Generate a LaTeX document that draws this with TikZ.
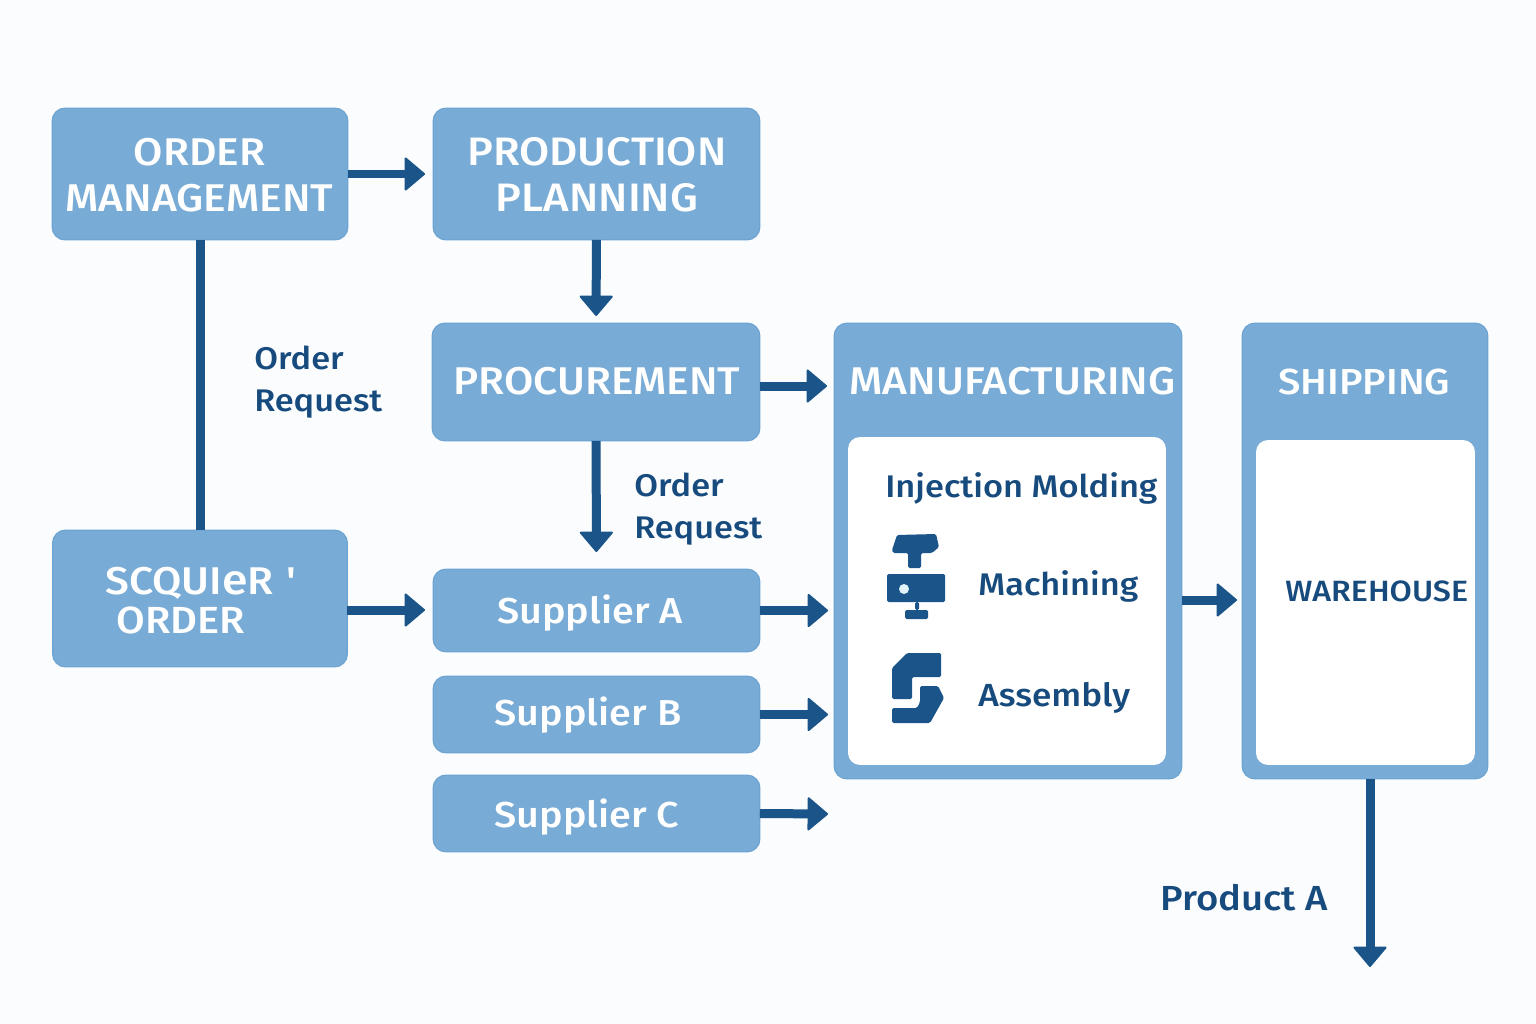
\documentclass[tikz,border=0pt]{standalone}
\usepackage{fontspec}
\setmainfont{Fira Sans}[BoldFont={Fira Sans Medium},BoldFeatures={FakeStretch=1.1}]
\usetikzlibrary{arrows.meta}
\definecolor{boxblue}{HTML}{78ABD5}
\definecolor{edgeblue}{HTML}{6AA3D2}
\definecolor{darkblue}{HTML}{1A5488}
\definecolor{inkblue}{HTML}{174B7E}
\definecolor{pageblue}{HTML}{FAFCFE}
\tikzset{
  blockbox/.style={draw=edgeblue,fill=boxblue,line width=0.02cm,rounded corners=0.26cm,inner sep=0pt,outer sep=0pt},
  innerbox/.style={fill=white,draw=none,rounded corners=0.24cm,inner sep=0pt,outer sep=0pt},
  whitetext/.style={text=white,font=\bfseries\fontsize{22}{26}\selectfont,align=center,inner sep=0pt},
  suppliertext/.style={whitetext,font=\bfseries\fontsize{20.5}{26}\selectfont},
  inktext/.style={text=inkblue,font=\bfseries\fontsize{17.8}{24}\selectfont,align=left,inner sep=0pt},
  flowline/.style={draw=darkblue,line width=0.18cm},
  flowarrow/.style={flowline,-{Triangle[round,width=0.70cm,length=0.42cm,line width=0.04cm]}},
  icon/.style={fill=darkblue,rounded corners=0.03cm},
}
\begin{document}
\begin{tikzpicture}[x=0.02cm,y=-0.02cm]
\fill[pageblue] (0,0) rectangle (1536,1024);
\useasboundingbox (0,0) rectangle (1536,1024);
% left column
\node[blockbox,minimum width=5.92cm,minimum height=2.64cm] (ordermgmt) at (200,174) {};
\node[whitetext] (ordermgmttext) at (199.5,175) {ORDER\\MANAGEMENT};
\node[blockbox,minimum width=5.90cm,minimum height=2.74cm] (squierorder) at (200,598.5) {};
\node[whitetext,anchor=west] (squiertext) at (105,583) {SCQUI{\fontsize{24}{26}\selectfont e}R\,\,\textquotesingle};
\node[whitetext,anchor=west,font=\bfseries\fontsize{21.5}{26}\selectfont] (squiertext2) at (116,620.5) {ORDER};
% middle column
\node[blockbox,minimum width=6.54cm,minimum height=2.64cm] (planning) at (596.5,174) {};
\node[whitetext,font=\bfseries\fontsize{22.6}{26}\selectfont] (planningtext) at (597,175) {PRODUCTION\\PLANNING};
\node[blockbox,minimum width=6.56cm,minimum height=2.36cm] (procurement) at (596,382) {};
\node[whitetext] (procurementtext) at (597,381.5) {PROCUREMENT};
\foreach \name/\txt/\cy/\h/\tx/\ty in {suppliera/Supplier A/610.5/1.66/590/613,supplierb/Supplier B/714.5/1.54/588/715.5,supplierc/Supplier C/813.5/1.54/587/817}
{
  \node[blockbox,minimum width=6.54cm,minimum height=\h cm] (\name) at (596.5,\cy) {};
  \node[suppliertext] (\name text) at (\tx,\ty) {\txt};
}
% manufacturing
\node[blockbox,minimum width=6.96cm,minimum height=9.12cm] (manufacturing) at (1008,551) {};
\node[innerbox,minimum width=6.36cm,minimum height=6.56cm] (mfginner) at (1007,601) {};
\node[whitetext] (mfgtitle) at (1012.5,381.5) {MANUFACTURING};
\node[inktext,anchor=west] (injection) at (885,488) {Injection Molding};
\node[inktext,anchor=west] (machining) at (978,586.5) {Machining};
\node[inktext,anchor=west,font=\bfseries\fontsize{18.2}{24}\selectfont] (assembly) at (978,697.5) {Assembly};
% machining icon
\fill[icon] (892,550)--(897,535)--(936,534)--(939,547)--(932,553)--(921,553)--(921,568)--(908,568)--(908,553)--(893,553)--cycle;
\fill[icon] (887,574) rectangle (945,602);
\fill[icon] (915,602) rectangle (919,610);
\fill[icon] (905,610) rectangle (928,619);
\fill[fill=black!15!cyan!12] (904,589) circle (0.1cm);
% assembly icon
\fill[icon] (907,653)--(941,653)--(941,677)--(912,677)--(912,699)--(892,699)--(892,668)--cycle;
\fill[icon] (920,686)--(938,686)--(944,698)--(930,723)--(892,723)--(892,708)--(917,708)--(920,702)--cycle;
% shipping
\node[blockbox,minimum width=4.92cm,minimum height=9.12cm] (shipping) at (1365,551) {};
\node[innerbox,minimum width=4.38cm,minimum height=6.50cm] (shipinner) at (1365.5,602.5) {};
\node[whitetext,font=\bfseries\fontsize{20.6}{26}\selectfont] (shiptitle) at (1364.5,381.5) {SHIPPING};
\node[inktext,anchor=west,font=\bfseries\fontsize{16.7}{20}\selectfont] (warehouse) at (1285,591.5) {WAREHOUSE};
% free labels
\node[inktext,anchor=west] (orderreq) at (254,382) {Order\\Request};
\node[inktext,anchor=west] (orderreqb) at (634,509) {Order\\Request};
\node[inktext,anchor=west,font=\bfseries\fontsize{19.8}{24}\selectfont] (producta) at (1160,898) {Product A};
% arrow ends
\coordinate (procout) at (760,386);
\coordinate (procend) at (827,386);
\coordinate (sqout) at (347,610);
\coordinate (sqend) at (425,610);
\coordinate (cend) at (828,814);
\coordinate (mfgout) at (1182,600);
\coordinate (shipend) at (1237,600);
\coordinate (shipout) at (1370,779);
\coordinate (productend) at (1370,967);
% connectors
\draw[flowline] (ordermgmt) -- (squierorder);
\draw[flowarrow,shorten >=0.16cm] (ordermgmt) -- (planning);
\draw[flowarrow,shorten >=0.14cm] (planning) -- (procurement);
\draw[flowarrow] (procout) -- (procend);
\draw[flowarrow,shorten >=0.34cm] (procurement) -- (suppliera);
\draw[flowarrow] (sqout) -- (sqend);
\draw[flowarrow,shorten >=0.12cm] (suppliera.east) -- (suppliera.east -| manufacturing.west);
\draw[flowarrow,shorten >=0.12cm] (supplierb.east) -- (supplierb.east -| manufacturing.west);
\draw[flowarrow] (supplierc.east) -- (cend);
\draw[flowarrow] (mfgout) -- (shipend);
\draw[flowarrow] (shipout) -- (productend);
\end{tikzpicture}
\end{document}
